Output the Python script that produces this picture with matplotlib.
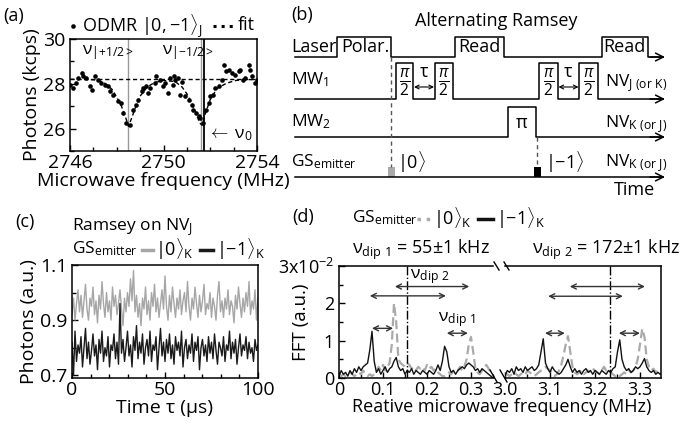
import numpy as np
import matplotlib
matplotlib.use("Agg")
import matplotlib.pyplot as plt
from matplotlib.lines import Line2D
from matplotlib.ticker import MultipleLocator

plt.rcParams['font.family'] = ['Open Sans', 'DejaVu Sans']
plt.rcParams['mathtext.fontset'] = 'custom'
plt.rcParams['mathtext.rm'] = 'Open Sans'
plt.rcParams['mathtext.it'] = 'Open Sans:italic'
plt.rcParams['mathtext.bf'] = 'Open Sans:bold'
plt.rcParams['font.size'] = 12

# ---- (a) ODMR data
odmr_f = [2746.0, 2746.13, 2746.27, 2746.34, 2746.5, 2746.56, 2746.7, 2746.84, 2746.94,
          2747.08, 2747.2, 2747.34, 2747.49, 2747.63, 2747.7, 2747.84, 2748.06, 2748.17,
          2748.27, 2748.41, 2748.56, 2748.7, 2748.84, 2748.91, 2749.06, 2749.13, 2749.27,
          2749.34, 2749.42, 2749.63, 2749.7, 2749.84, 2749.98, 2750.07, 2750.21, 2750.29,
          2750.4, 2750.43, 2750.5, 2750.64, 2750.71, 2750.79, 2750.93, 2751.07, 2751.21,
          2751.28, 2751.4, 2751.5, 2751.57, 2751.67, 2751.83, 2751.93, 2752.0, 2752.11,
          2752.21, 2752.36, 2752.5, 2752.57, 2752.69, 2752.79, 2752.93, 2753.07, 2753.21,
          2753.29, 2753.4, 2753.5, 2753.64, 2753.71, 2753.79, 2753.93, 2754.0]
odmr_v = [27.96, 27.8, 28.03, 28.28, 28.47, 28.37, 28.25, 27.88, 27.73,
          28.33, 28.18, 28.03, 27.96, 27.88, 27.66, 27.51, 27.21, 27.14,
          26.7, 26.25, 26.18, 26.84, 27.07, 27.29, 27.66, 27.8, 27.88,
          27.59, 27.8, 28.03, 28.33, 28.18, 27.88, 28.03, 27.59, 28.25,
          27.96, 28.33, 28.18, 28.25, 27.51, 28.1, 27.44, 27.29, 27.07,
          26.84, 26.7, 26.55, 26.48, 26.25, 26.84, 27.14, 27.44, 27.51,
          27.8, 27.88, 28.18, 28.84, 28.55, 28.62, 28.47, 28.4, 28.55,
          28.62, 28.18, 28.25, 28.84, 28.62, 28.33, 28.03, 28.18]
fit_f = [2746.0, 2746.5, 2747.0, 2747.3, 2747.5, 2747.8, 2748.0, 2748.2, 2748.35, 2748.5,
         2748.65, 2748.8, 2749.0, 2749.3, 2749.6, 2750.0, 2750.5, 2750.8, 2751.0, 2751.2,
         2751.4, 2751.55, 2751.65, 2751.8, 2752.0, 2752.3, 2752.7, 2753.1, 2753.5, 2754.0]
fit_v = [28.2, 28.2, 28.18, 28.12, 28.02, 27.75, 27.4, 27.0, 26.6, 26.1,
         26.5, 26.95, 27.45, 27.85, 28.05, 28.15, 28.1, 27.85, 27.55, 27.15,
         26.65, 26.25, 26.15, 26.7, 27.3, 27.8, 28.03, 28.15, 28.18, 28.2]
fit_base = 28.2
nu_plus, nu_minus, nu_zero = 2748.5, 2751.6, 2751.75

# ---- (c) Ramsey traces
ramsey_0 = [0.92, 0.98, 0.90, 0.96, 1.01, 0.93, 0.99, 0.91, 0.97, 1.03, 0.94, 0.90, 0.98, 0.95,
            1.02, 0.92, 0.97, 0.89, 0.99, 0.94, 1.04, 0.96, 0.91, 1.00, 0.93, 0.97, 0.90, 1.02,
            0.95, 0.99, 0.92, 0.96, 1.01, 0.94, 0.88, 0.98, 0.93, 1.00, 0.95, 1.05, 0.97, 1.08,
            0.93, 0.99, 0.91, 0.96, 0.88, 0.98, 0.94, 1.02, 0.92, 0.97, 0.90, 1.00, 0.95, 1.03,
            0.93, 0.98, 0.91, 0.96, 1.01, 0.94, 1.06, 0.95, 0.90, 0.99, 0.93, 1.02, 0.96, 0.91,
            0.98, 0.94, 1.01, 0.92, 0.97, 1.00, 0.93, 1.04, 0.95, 0.90, 0.98, 0.94, 1.02, 0.96,
            0.91, 0.99, 0.93, 0.97, 1.03, 0.92, 0.96, 0.94, 1.00, 0.91, 0.98, 0.95, 0.90, 0.99,
            1.04, 0.93, 0.97, 0.91, 0.98, 0.94, 1.01, 0.92, 0.97, 0.95, 0.89, 0.99, 0.94, 1.02,
            0.96, 0.91, 0.98, 0.93, 1.00, 0.95, 1.04, 0.92, 0.97, 0.94, 1.01, 0.90, 0.98]
ramsey_1 = [0.82, 0.70, 0.86, 0.75, 0.81, 0.78, 0.84, 0.73, 0.80, 0.87, 0.76, 0.82, 0.74, 0.79,
            0.85, 0.77, 0.81, 0.72, 0.83, 0.78, 0.86, 0.75, 0.80, 0.77, 0.84, 0.73, 0.81, 0.79,
            0.85, 0.76, 0.82, 0.74, 0.96, 0.78, 0.83, 0.75, 0.80, 0.86, 0.77, 0.81, 0.73, 0.84,
            0.79, 0.88, 0.76, 0.82, 0.78, 0.85, 0.74, 0.80, 0.83, 0.77, 0.86, 0.75, 0.81, 0.79,
            0.84, 0.72, 0.80, 0.87, 0.77, 0.82, 0.75, 0.83, 0.78, 0.85, 0.76, 0.81, 0.74, 0.84,
            0.79, 0.82, 0.77, 0.86, 0.73, 0.80, 0.83, 0.76, 0.81, 0.78, 0.85, 0.75, 0.82, 0.79,
            0.84, 0.72, 0.80, 0.83, 0.77, 0.81, 0.75, 0.84, 0.78, 0.82, 0.76, 0.85, 0.79, 0.74,
            0.82, 0.80, 0.77, 0.84, 0.75, 0.81, 0.79, 0.86, 0.76, 0.82, 0.78, 0.83, 0.74, 0.80,
            0.85, 0.77, 0.81, 0.79, 0.84, 0.76, 0.82, 0.78, 0.80, 0.75, 0.83, 0.79, 0.81]

# ---- (d) FFT spectra (two frequency windows, step 0.005 MHz)
fft_low_f = np.arange(71) * 0.005
fft_low_k1 = [0.05, 0.2, 0.1, 0.15, 0.05, 0.2, 0.1, 0.25, 0.15, 0.3, 0.2, 0.3, 0.35, 0.4, 0.75,
              1.25, 0.45, 0.15, 0.25, 0.1, 0.2, 0.3, 0.15, 0.25, 0.3, 0.45, 0.55, 0.3, 0.2, 0.25,
              0.1, 0.2, 0.15, 0.25, 0.1, 0.2, 0.15, 0.1, 0.2, 0.15, 0.1, 0.2, 0.15, 0.1, 0.2,
              0.35, 0.2, 0.45, 0.85, 0.7, 0.3, 0.15, 0.2, 0.1, 0.2, 0.25, 0.3, 0.25, 0.35, 0.4,
              0.35, 0.3, 0.2, 0.25, 0.15, 0.25, 0.2, 0.15, 0.1, 0.05, 0.0]
fft_low_k0 = [0.1, 0.05, 0.1, 0.05, 0.1, 0.15, 0.1, 0.05, 0.1, 0.15, 0.1, 0.2, 0.1, 0.05, 0.1,
              0.05, 0.1, 0.15, 0.3, 0.2, 0.35, 0.2, 0.3, 0.4, 0.9, 2.0, 1.5, 0.5, 0.4, 0.35,
              0.3, 0.4, 0.35, 0.25, 0.3, 0.2, 0.3, 0.25, 0.3, 0.2, 0.35, 0.25, 0.3, 0.2, 0.25,
              0.15, 0.1, 0.05, 0.05, 0.1, 0.15, 0.1, 0.2, 0.15, 0.2, 0.3, 0.2, 0.3, 0.5, 0.9,
              1.1, 0.7, 0.25, 0.15, 0.1, 0.2, 0.3, 0.35, 0.25, 0.15, 0.05]
fft_high_f = 3.0 + np.arange(70) * 0.005
fft_high_k1 = [0.05, 0.2, 0.15, 0.25, 0.1, 0.3, 0.2, 0.25, 0.15, 0.3, 0.2, 0.25, 0.3, 0.2, 0.25,
               0.35, 0.7, 1.05, 0.4, 0.25, 0.15, 0.3, 0.2, 0.15, 0.1, 0.15, 0.25, 0.35, 0.5, 0.3,
               0.15, 0.25, 0.15, 0.2, 0.1, 0.2, 0.25, 0.15, 0.2, 0.1, 0.2, 0.15, 0.1, 0.2, 0.15,
               0.1, 0.2, 0.15, 0.25, 0.3, 0.7, 1.02, 0.5, 0.3, 0.2, 0.25, 0.15, 0.2, 0.3, 0.25,
               0.3, 0.4, 0.52, 0.3, 0.2, 0.15, 0.2, 0.1, 0.15, 0.1]
fft_high_k0 = [0.05, 0.1, 0.05, 0.1, 0.15, 0.1, 0.05, 0.1, 0.15, 0.1, 0.2, 0.15, 0.1, 0.05, 0.1,
               0.15, 0.2, 0.25, 0.3, 0.25, 0.2, 0.1, 0.05, 0.1, 0.2, 0.35, 0.6, 0.9, 1.12, 0.7,
               0.3, 0.15, 0.1, 0.15, 0.2, 0.1, 0.15, 0.2, 0.15, 0.25, 0.2, 0.15, 0.1, 0.2, 0.3,
               0.2, 0.25, 0.15, 0.1, 0.05, 0.1, 0.05, 0.1, 0.15, 0.1, 0.2, 0.15, 0.2, 0.3, 0.5,
               0.9, 1.32, 1.1, 0.5, 0.3, 0.2, 0.25, 0.15, 0.2, 0.1]
dip_marks = [0.155, 3.233]
arrows_low = [(0.127, 0.296, 2.45), (0.07, 0.243, 2.2), (0.075, 0.123, 1.33), (0.245, 0.293, 1.2)]
arrows_high = [(3.144, 3.311, 2.45), (3.096, 3.262, 2.19), (3.089, 3.133, 1.2), (3.253, 3.300, 1.2)]

# ---- (b) pulse sequence (schematic units)
laser_t = [5, 47, 47, 101, 101, 165, 165, 214, 214, 312, 312, 358, 358, 373]
laser_s = [0, 0, 1, 1, 0, 0, 1, 1, 0, 0, 1, 1, 0, 0]
mw1_t = [5, 106, 106, 123, 123, 145, 145, 163, 163, 249, 249, 268, 268, 289, 289, 308, 308, 373]
mw1_s = [0, 0, 1, 1, 0, 0, 1, 1, 0, 0, 1, 1, 0, 0, 1, 1, 0, 0]
mw2_t = [5, 218, 218, 246, 246, 373]
mw2_s = [0, 0, 1, 1, 0, 0]
gs_t = [5, 373]
gs_s = [0, 0]

W, H = 680, 425
FS = 14       # panels (a), (c)
FD = 13       # panel (d) ticks
fig = plt.figure(figsize=(6.8, 4.25), dpi=100)


def box(x0, y0, x1, y1):
    return [x0 / W, 1 - y1 / H, (x1 - x0) / W, (y1 - y0) / H]


def fp(x, y):
    return (x / W, 1 - y / H)


def seg(x0, x1, y, **kw):
    fig.add_artist(Line2D([x0 / W, x1 / W], [1 - y / H, 1 - y / H], **kw))


def style_ax(ax, size):
    ax.tick_params(which='both', direction='in', labelsize=size, width=1)
    ax.tick_params(which='major', length=4)
    ax.tick_params(which='minor', length=3)
    for s in ax.spines.values():
        s.set_linewidth(1.1)


# ================= (a)
axa = fig.add_axes(box(70, 39, 257, 151))
axa.axvline(nu_plus, color='#999999', lw=1)
axa.axvline(nu_minus, color='#999999', lw=1)
axa.axvline(nu_zero, color='k', lw=1.3)
axa.axhline(fit_base, color='k', ls='--', lw=1, dashes=(3, 2))
axa.plot(fit_f, fit_v, color='k', ls='--', lw=1, dashes=(3, 2))
axa.plot(odmr_f, odmr_v, 'o', color='k', ms=3.3, mew=0)
axa.set_xlim(2746, 2754)
axa.set_ylim(25, 30)
axa.set_xticks([2746, 2750, 2754])
axa.xaxis.set_minor_locator(MultipleLocator(1))
axa.set_yticks([26, 28, 30])
axa.yaxis.set_minor_locator(MultipleLocator(1))
style_ax(axa, FS)
axa.tick_params(axis='x', pad=2)
axa.set_xlabel('Microwave frequency (MHz)', fontsize=FS, labelpad=0)
axa.set_ylabel('Photons (kcps)', fontsize=FS, labelpad=1)
axa.text(2746.5, 29.4, r'ν$_{|{+}1/2>}$', fontsize=12.5, va='center')
axa.text(2749.95, 29.4, r'ν$_{|{-}1/2>}$', fontsize=12.5, va='center')
axa.text(2751.85, 25.72, r'$\leftarrow$ ν$_0$', fontsize=12.5, va='center')
fig.text(*fp(3, 16), '(a)', fontsize=13, va='center')
fig.add_artist(Line2D([fp(73, 0)[0]], [fp(0, 26)[1]], marker='o', color='k', ms=3.3, mew=0))
fig.text(*fp(82, 26), r'ODMR $|0,\mathrm{-}1\rangle_{\mathrm{J}}$', fontsize=13, va='center')
seg(213, 234, 26, color='k', ls=':', lw=2.2)
fig.text(*fp(238, 25), 'fit', fontsize=13, va='center')

# ================= (b)
axb = fig.add_axes(box(290, 0, 680, 200))
axb.set_xlim(0, 390)
axb.set_ylim(200, 0)
axb.axis('off')
rows = [(laser_t, laser_s, 57, 20), (mw1_t, mw1_s, 99, 36), (mw2_t, mw2_s, 137, 30), (gs_t, gs_s, 177, 0)]
for t, s, base, amp in rows:
    axb.plot(t, [base - amp * v for v in s], color='k', lw=1.1)
    axb.annotate('', xy=(375, base), xytext=(360, base),
                 arrowprops=dict(arrowstyle='->', color='k', lw=1.1, shrinkA=0, shrinkB=0,
                                 mutation_scale=14))
axb.plot([101, 101], [57, 167], color='#555555', ls='--', lw=1, dashes=(3, 2.5))
axb.plot([247, 247], [137, 167], color='#555555', ls='--', lw=1, dashes=(3, 2.5))
axb.add_patch(plt.Rectangle((98, 167), 7, 10, color='#aaaaaa', lw=0))
axb.add_patch(plt.Rectangle((244, 167), 7, 10, color='k', lw=0))
axb.text(206, 21, 'Alternating Ramsey', fontsize=13, ha='center', va='center')
axb.text(1, 15, '(b)', fontsize=13, va='center')
axb.text(1, 47, 'Laser', fontsize=13, va='center')
axb.text(75, 47, 'Polar.', fontsize=13, ha='center', va='center')
axb.text(189, 47, 'Read', fontsize=13, ha='center', va='center')
axb.text(334, 47, 'Read', fontsize=13, ha='center', va='center')
axb.text(1, 80, r'MW$_1$', fontsize=12.5, va='center')
axb.text(1, 122, r'MW$_2$', fontsize=12.5, va='center')
axb.text(1, 162, r'GS$_{\mathrm{emitter}}$', fontsize=12.5, va='center')
for xc in [114.5, 154, 258.5, 298.5]:
    axb.text(xc, 82, r'$\frac{\pi}{2}$', fontsize=16, ha='center', va='center')
for xc in [134, 278.5]:
    axb.text(xc, 72, 'τ', fontsize=13, ha='center', va='center')
    axb.annotate('', xy=(xc + 10, 87), xytext=(xc - 10, 87),
                 arrowprops=dict(arrowstyle='<->', color='k', lw=0.8, shrinkA=0, shrinkB=0,
                                 mutation_scale=7))
axb.text(232, 123, 'π', fontsize=13, ha='center', va='center')
axb.text(315, 83, r'NV$_{\mathrm{J\ (or\ K)}}$', fontsize=12.5, va='center')
axb.text(315, 124, r'NV$_{\mathrm{K\ (or\ J)}}$', fontsize=12.5, va='center')
axb.text(315, 163, r'NV$_{\mathrm{K\ (or\ J)}}$', fontsize=12.5, va='center')
axb.text(107, 162, r'$|0\rangle$', fontsize=13, va='center')
axb.text(255, 162, r'$|\mathrm{-}1\rangle$', fontsize=13, va='center')
axb.text(344, 190, 'Time', fontsize=13, ha='center', va='center')

# ================= (c)
axc = fig.add_axes(box(72, 265, 258, 378))
tc0 = np.linspace(0, 100, len(ramsey_0))
tc1 = np.linspace(0, 100, len(ramsey_1))
axc.plot(tc0, ramsey_0, color='#a6a6a6', lw=1)
axc.plot(tc1, ramsey_1, color='#1a1a1a', lw=1)
axc.set_xlim(0, 100)
axc.set_ylim(0.69, 1.1)
axc.set_xticks([0, 50, 100])
axc.xaxis.set_minor_locator(MultipleLocator(10))
axc.set_yticks([0.7, 0.9, 1.1])
axc.set_yticklabels(['0.7', '0.9', '1.1'])
axc.yaxis.set_minor_locator(MultipleLocator(0.1))
style_ax(axc, FS)
axc.tick_params(axis='x', pad=2)
axc.set_xlabel('Time τ (μs)', fontsize=FS, labelpad=0)
axc.set_ylabel('Photons (a.u.)', fontsize=FS, labelpad=1)
fig.text(*fp(15, 222), '(c)', fontsize=13, va='center')
fig.text(*fp(72, 227), r'Ramsey on NV$_{\mathrm{J}}$', fontsize=12.5, va='center')
fig.text(*fp(72, 249), r'GS$_{\mathrm{emitter}}$', fontsize=12.5, va='center')
seg(142, 153, 250, color='#a6a6a6', lw=2.5)
fig.text(*fp(155, 249), r'$|0\rangle_{\mathrm{K}}$', fontsize=13, va='center')
seg(200, 213, 250, color='#1a1a1a', lw=2.5)
fig.text(*fp(216, 249), r'$|\mathrm{-}1\rangle_{\mathrm{K}}$', fontsize=13, va='center')

# ================= (d)
axd1 = fig.add_axes(box(339, 266, 493, 378))
axd2 = fig.add_axes(box(505, 266, 661, 378))
axd1.plot(fft_low_f, fft_low_k0, color='#aaaaaa', ls='--', lw=1.6, dashes=(4, 2))
axd1.plot(fft_low_f, fft_low_k1, color='#111111', lw=1)
axd2.plot(fft_high_f, fft_high_k0, color='#aaaaaa', ls='--', lw=1.6, dashes=(4, 2))
axd2.plot(fft_high_f, fft_high_k1, color='#111111', lw=1)
axd1.axvline(dip_marks[0], color='k', ls='-.', lw=1)
axd2.axvline(dip_marks[1], color='k', ls='-.', lw=1)
for ax, arrs in [(axd1, arrows_low), (axd2, arrows_high)]:
    for x0, x1, y in arrs:
        ax.annotate('', xy=(x1, y), xytext=(x0, y),
                    arrowprops=dict(arrowstyle='<->', color='#333333', lw=1, shrinkA=0, shrinkB=0,
                                    mutation_scale=9))
axd1.text(0.207, 2.72, r'ν$_{\mathrm{dip\ 2}}$', fontsize=12.5, ha='center', va='center')
axd1.text(0.268, 1.57, r'ν$_{\mathrm{dip\ 1}}$', fontsize=12.5, ha='center', va='center')
axd1.set_xlim(0, 0.35)
axd2.set_xlim(3.0, 3.3467)
for ax in (axd1, axd2):
    ax.set_ylim(0, 3)
    ax.xaxis.set_minor_locator(MultipleLocator(0.05))
    style_ax(ax, FD)
    ax.tick_params(axis='x', pad=2)
axd1.set_xticks([0, 0.1, 0.2, 0.3])
axd1.set_xticklabels(['0', '0.1', '0.2', '0.3'])
axd2.set_xticks([3.0, 3.1, 3.2, 3.3])
axd2.set_xticklabels(['3.0', '3.1', '3.2', '3.3'])
axd1.set_yticks([0, 1, 2, 3])
axd1.set_yticklabels(['0', '1', '2', r'3x10$^{-2}$'])
axd1.yaxis.set_minor_locator(MultipleLocator(0.5))
axd1.spines['right'].set_visible(False)
axd2.spines['left'].set_visible(False)
axd2.tick_params(which='both', left=False, labelleft=False)
fig.text(*fp(301, 322), 'FFT (a.u.)', fontsize=13.5, rotation=90, ha='center', va='center')
fig.text(*fp(502, 407), 'Reative microwave frequency (MHz)', fontsize=13, ha='center', va='center')
# break marks
for xa, xb in [(494, 499), (504, 509)]:
    fig.add_artist(Line2D([xa / W, xb / W], [1 - 262 / H, 1 - 270 / H], color='k', lw=1))
    fig.add_artist(Line2D([(xa - 4) / W, (xb - 2) / W], [1 - 370 / H, 1 - 382 / H], color='k', lw=1))
fig.text(*fp(292, 217), '(d)', fontsize=13, va='center')
fig.text(*fp(352, 218), r'GS$_{\mathrm{emitter}}$', fontsize=12.5, va='center')
seg(417, 430, 219, color='#aaaaaa', ls=':', lw=2.5)
fig.text(*fp(433, 218), r'$|0\rangle_{\mathrm{K}}$', fontsize=13, va='center')
seg(478, 493, 219, color='#111111', lw=2.5)
fig.text(*fp(496, 218), r'$|\mathrm{-}1\rangle_{\mathrm{K}}$', fontsize=13, va='center')
fig.text(*fp(352, 250), r'ν$_{\mathrm{dip\ 1}}$ = 55±1 kHz', fontsize=13, va='center')
fig.text(*fp(532, 250), r'ν$_{\mathrm{dip\ 2}}$ = 172±1 kHz', fontsize=13, va='center')

fig.savefig('out.png', dpi=100)
